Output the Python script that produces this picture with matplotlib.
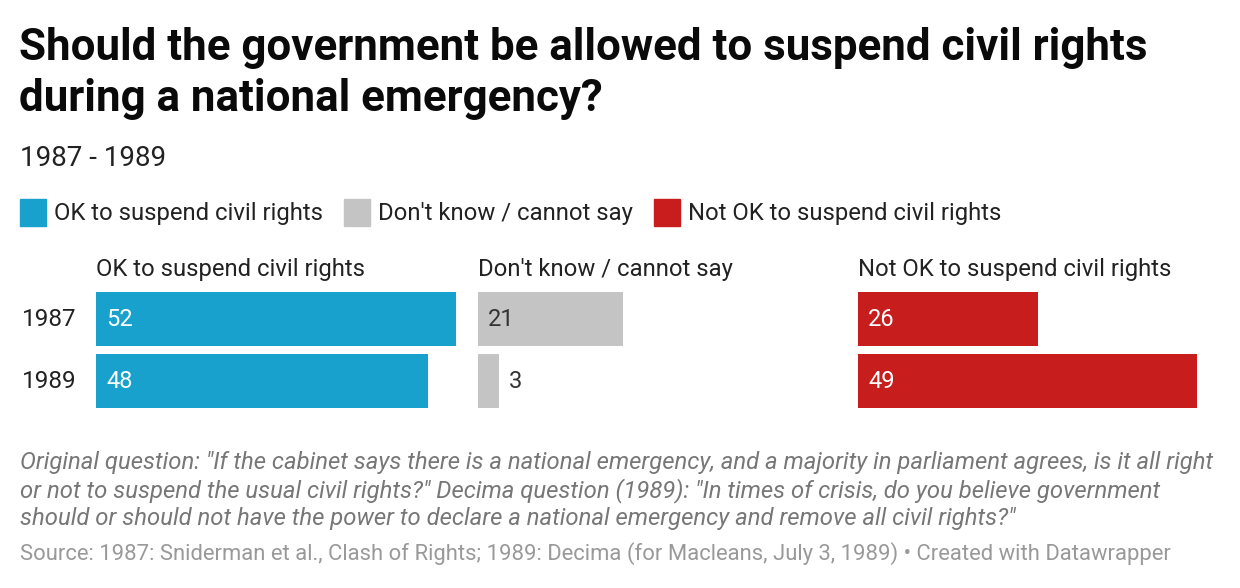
import matplotlib
matplotlib.use('Agg')
import matplotlib.pyplot as plt
from matplotlib.patches import Rectangle

plt.rcParams['font.family'] = ['Roboto', 'DejaVu Sans']

years = ['1987', '1989']
categories = ['OK to suspend civil rights', "Don't know / cannot say", 'Not OK to suspend civil rights']
ok_values = [52, 48]
dk_values = [21, 3]
not_ok_values = [26, 49]
colors = ['#18a1cd', '#c4c4c4', '#c71e1d']
label_colors = ['white', '#333333', 'white']

W, H = 1240, 588
fig = plt.figure(figsize=(W / 100, H / 100), dpi=100)


def fx(x):
    return x / W


def fy(y):
    return 1 - y / H


# title & subtitle
fig.text(fx(19), fy(60), 'Should the government be allowed to suspend civil rights',
         fontsize=31.6, fontweight='bold', color='#0a0a0a', va='baseline')
fig.text(fx(19), fy(111), 'during a national emergency?',
         fontsize=31.6, fontweight='bold', color='#0a0a0a', va='baseline')
fig.text(fx(20), fy(166), '1987 - 1989', fontsize=20, color='#222222', va='baseline')

# legend
leg_x = [20, 344, 654]
for i, cat in enumerate(categories):
    fig.patches.append(Rectangle((fx(leg_x[i]), fy(226)), fx(26), 27 / H,
                                 transform=fig.transFigure, color=colors[i]))
    fig.text(fx(leg_x[i] + 34), fy(220), cat, fontsize=17.2, color='#222222', va='baseline')

# year labels
for j, yr in enumerate(years):
    fig.text(fx(22), fy(319 + 62 * j), yr, fontsize=17.5, color='#222222', va='center')

# bar panels
series = [ok_values, dk_values, not_ok_values]
col_x = [96, 478, 858]
max_val = max(max(s) for s in series)
for i, vals in enumerate(series):
    ax = fig.add_axes([fx(col_x[i]), fy(408), fx(360), 116 / H])
    ax.barh([0, 1], vals, height=54 / 62, color=colors[i])
    ax.set_xlim(0, max_val)
    ax.set_ylim(1 + 0.5 * 54 / 62, -0.5 * 54 / 62)
    ax.axis('off')
    fig.text(fx(col_x[i]), fy(276), categories[i], fontsize=17.2, color='#222222', va='baseline')
    for j, v in enumerate(vals):
        if v < 5:
            ax.text(v + 1.5, j, str(v), color='#333333', fontsize=17, va='center', ha='left')
        else:
            ax.text(1.45, j, str(v), color=label_colors[i], fontsize=17, va='center', ha='left')

# notes
notes = [
    'Original question: "If the cabinet says there is a national emergency, and a majority in parliament agrees, is it all right',
    'or not to suspend the usual civil rights?" Decima question (1989): "In times of crisis, do you believe government',
    'should or should not have the power to declare a national emergency and remove all civil rights?"',
]
for k, line in enumerate(notes):
    fig.text(fx(20), fy(469 + 28 * k), line, fontsize=17.2, style='italic', color='#777777', va='baseline')
fig.text(fx(20), fy(560),
         'Source: 1987: Sniderman et al., Clash of Rights; 1989: Decima (for Macleans, July 3, 1989) \u2022 Created with Datawrapper',
         fontsize=15.8, color='#999999', va='baseline')

fig.savefig('out.png', dpi=100, facecolor='white')
